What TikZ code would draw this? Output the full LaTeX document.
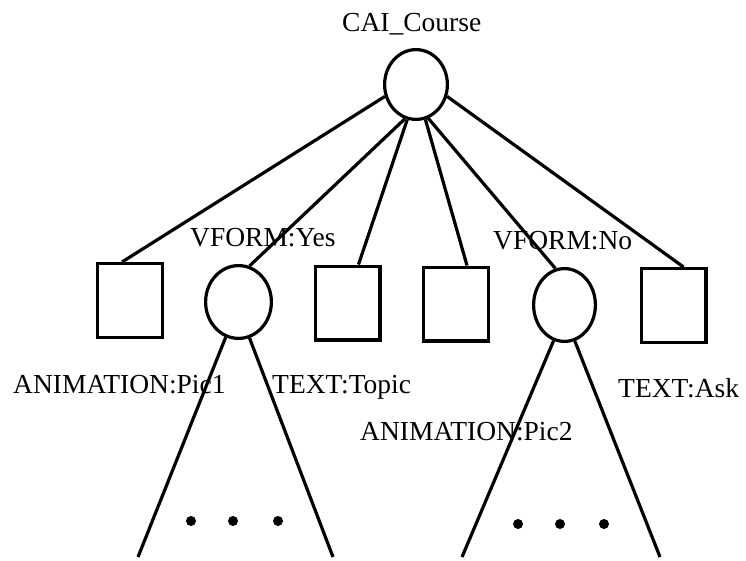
\documentclass[tikz,border=0pt]{standalone}
\usepackage{fontspec}
\setmainfont{Liberation Serif}
\usetikzlibrary{shapes.geometric}

\begin{document}
\begin{tikzpicture}[
  x=1pt, y=-1pt,
  every node/.style={font=\fontsize{27.5}{33}\selectfont},
  leaf/.style={draw, line width=3.2pt, minimum width=64.8pt, minimum height=73.8pt, inner sep=0pt},
  part/.style={draw, ellipse, line width=3.2pt, inner sep=0pt},
  lbl/.style={anchor=base west, inner sep=0pt},
  dot/.style={circle, fill, inner sep=0pt, minimum size=10pt},
  edge/.style={line width=3.2pt}
]
  \useasboundingbox (0,0) rectangle (746,561);

  % course root and its parts
  \node[part, minimum width=62.8pt, minimum height=69.8pt] (root) at (416,84.5) {};
  \node[leaf] (box1) at (130,300.5) {};
  \node[part, minimum width=65.8pt, minimum height=72.8pt] (yes) at (238.5,302) {};
  \node[leaf] (box2) at (347.5,303) {};
  \node[leaf] (box3) at (456,304) {};
  \node[part, minimum width=61.8pt, minimum height=72.8pt] (no) at (564.5,305) {};
  \node[leaf] (box4) at (673.5,305.5) {};

  % labels
  \node[lbl] (lroot) at (342,31.5) {CAI\_Course};
  \node[lbl] (lyes) at (190,247) {VFORM:Yes};
  \node[lbl] (lno) at (493,250) {VFORM:No};
  \node[lbl] (lpic1) at (13,393) {ANIMATION:Pic1};
  \node[lbl] (ltopic) at (272,393) {TEXT:Topic};
  \node[lbl] (lask) at (618,397) {TEXT:Ask};
  \node[lbl] (lpic2) at (360,440) {ANIMATION:Pic2};

  \draw[edge] (root.201) -- ([xshift=-8pt]box1.north);
  \draw[edge] (root.252) -- (yes.73);
  \draw[edge] (root.256) -- ([xshift=11pt]box2.north);
  \draw[edge] (root.285) -- ([xshift=11pt]box3.north);
  \draw[edge] (root.290) -- (no.104);
  \draw[edge] (root.339) -- ([xshift=10pt]box4.north);

  % open subtrees
  \coordinate (ya) at (138,557);
  \coordinate (yb) at (333,557);
  \coordinate (na) at (462,557);
  \coordinate (nb) at (660,557);
  \draw[edge] (yes.250) -- (ya);
  \draw[edge] (yes.287) -- (yb);
  \draw[edge] (no.253) -- (na);
  \draw[edge] (no.286) -- (nb);

  \foreach \x [count=\i] in {191,233,278}
    \node[dot] (yd\i) at (\x,521) {};
  \foreach \x [count=\i] in {518,560,604}
    \node[dot] (nd\i) at (\x,524) {};
\end{tikzpicture}
\end{document}
